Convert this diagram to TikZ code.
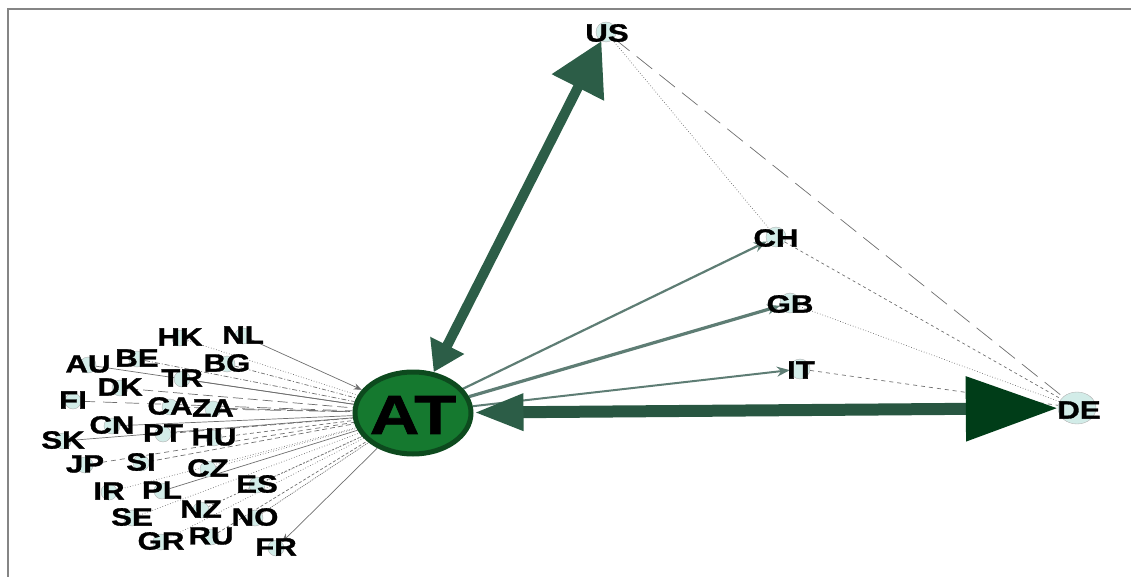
\documentclass[tikz,border=0pt]{standalone}
\usepackage{fontspec}
\newfontfamily\labfont[FakeStretch=1.25, FakeBold=1.2]{Liberation Sans}
\usetikzlibrary{arrows.meta,shapes.geometric}
\definecolor{nodecyan}{HTML}{D2ECE8}
\definecolor{spokegray}{HTML}{6E6E6E}
\definecolor{midgreen}{HTML}{5E7D74}
\definecolor{bigedge}{HTML}{2C5D47}
\definecolor{deedge}{HTML}{285641}
\definecolor{dehead}{HTML}{003D18}
\definecolor{atfill}{HTML}{15792F}
\definecolor{atdraw}{HTML}{0D4A1E}
\definecolor{framegray}{HTML}{858585}
\pgfdeclarelayer{bg}
\pgfsetlayers{bg,main}
\begin{document}
\begin{tikzpicture}[x=1pt,y=-1pt,
  cdot/.style={circle, draw=gray!60, fill=nodecyan, minimum size=20pt, inner sep=0pt},
  bigdot/.style={ellipse, draw=gray!60, fill=nodecyan, minimum width=38pt, minimum height=32pt, inner sep=0pt},
  lab/.style={font=\labfont\bfseries\fontsize{25}{25}\selectfont, inner sep=0pt, text=black},
  spoke/.style={draw=spokegray, line width=0.7pt},
  mid/.style={draw=midgreen, line width=2.2pt, -{Stealth[length=13pt,width=10pt]}},
  thin/.style={draw=spokegray, line width=0.7pt}]
\useasboundingbox (0,0) rectangle (1131,577);
\draw[framegray, line width=2pt] (8,577) -- (8,9) -- (1131,9);

% main nodes
\node[ellipse, draw=atdraw, line width=5pt, fill=atfill, minimum width=116pt, minimum height=82pt, inner sep=0pt] (at) at (413,413) {};
\node[lab, font=\labfont\bfseries\fontsize{55}{55}\selectfont] (atl) at (413,415) {AT};

\node[cdot] (us) at (606,32) {};
\node[cdot] (ch) at (776,237) {};
\node[cdot] (gb) at (790,303) {};
\node[cdot] (it) at (800,369) {};
\node[bigdot] (de) at (1077,408) {};

% small countries
\foreach \n/\x/\y in {nl/243/336, hk/180/338, be/137/359, au/88/365, bg/227/364,
  tr/182/379, dk/120/388, fi/73/401, ca/170/407, za/213/409, cn/112/426,
  pt/163/434, hu/214/438, sk/63/441, jp/85/465, si/141/463, cz/208/469,
  ir/109/492, pl/162/491, es/257/485, se/132/518, nz/201/510, no/255/518,
  gr/161/542, ru/211/537, fr/276/548}
  \node[cdot, minimum size=16pt] (\n) at (\x,\y) {};

\begin{pgfonlayer}{bg}
% spokes to AT
\draw[spoke, -{Stealth[length=8pt,width=6pt]}] (nl) -- (at);
\draw[spoke, dotted] (hk) -- (at);
\draw[spoke, dash pattern=on 4pt off 2pt on 1pt off 2pt] (bg) -- (at);
\draw[spoke, dash pattern=on 5pt off 2pt on 1pt off 2pt] (be) -- (at);
\draw[spoke] (au) -- (at);
\draw[spoke] (tr) -- (at);
\draw[spoke, dash pattern=on 10pt off 5pt] (dk) -- (at);
\draw[spoke, dash pattern=on 14pt off 8pt] (fi) -- (at);
\draw[spoke, dash pattern=on 12pt off 4pt] (ca) -- (at);
\draw[spoke, dash pattern=on 16pt off 6pt] (za) -- (at);
\draw[spoke] (cn) -- (at);
\draw[spoke, dash pattern=on 6pt off 3pt] (pt) -- (at);
\draw[spoke, dash pattern=on 4pt off 3pt] (hu) -- (at);
\draw[spoke] (sk) -- (at);
\draw[spoke, dash pattern=on 5pt off 4pt] (jp) -- (at);
\draw[spoke, dash pattern=on 5pt off 3pt] (si) -- (at);
\draw[spoke, dotted] (cz) -- (at);
\draw[spoke, dotted] (ir) -- (at);
\draw[spoke] (pl) -- (at);
\draw[spoke, dotted] (es) -- (at);
\draw[spoke, dotted] (se) -- (at);
\draw[spoke, dash pattern=on 2pt off 2pt] (nz) -- (at);
\draw[spoke, dash pattern=on 1pt off 1pt] (no) -- (at);
\draw[spoke, dotted] (gr) -- (at);
\draw[spoke, dash pattern=on 3pt off 2pt] (ru) -- (at);
\draw[spoke, {Stealth[length=9pt,width=7pt]}-] (fr) -- (at);

% triangle edges
\draw[thin, dash pattern=on 20pt off 9pt] (us) -- (de);
\draw[thin, dotted] (us) -- (ch);
\draw[thin, dash pattern=on 3pt off 3pt] (ch) -- (de);
\draw[thin, dotted] (gb) -- (de);
\draw[thin, dash pattern=on 4pt off 4pt] (it) -- (de);

% AT -> CH, GB, IT
\draw[mid] (at) -- (ch);
\draw[mid, line width=3.2pt] (at) -- (gb);
\draw[mid, line width=2pt] (at) -- (it);

% big edges
\draw[bigedge, line width=10pt, {Triangle[width=36pt,length=30pt]}-{Triangle[width=56pt,length=52pt]}] (at) -- (us);
\draw[deedge, line width=12pt, {Triangle[width=34pt,length=50pt,color=bigedge]}-{Triangle[width=62pt,length=92pt,color=dehead]}] (at) -- (de);
\end{pgfonlayer}

% labels
\node[lab] (usl) at (607,33) {US};
\node[lab] (chl) at (776,238) {CH};
\node[lab] (gbl) at (790,304) {GB};
\node[lab] (itl) at (801,370) {IT};
\node[lab] (del) at (1079,410) {DE};
\foreach \n/\t in {nl/NL, hk/HK, be/BE, au/AU, bg/BG, tr/TR, dk/DK, fi/FI, ca/CA,
  za/ZA, cn/CN, pt/PT, hu/HU, sk/SK, jp/JP, si/SI, cz/CZ, ir/IR, pl/PL, es/ES,
  se/SE, nz/NZ, no/NO, gr/GR, ru/RU, fr/FR}
  \node[lab] (\n l) at ([yshift=1pt]\n) {\t};
\end{tikzpicture}
\end{document}
